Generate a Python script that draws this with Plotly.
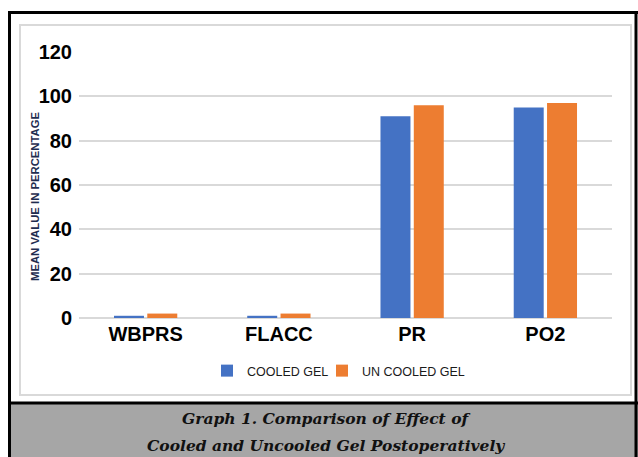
import plotly.graph_objects as go

categories = ["WBPRS", "FLACC", "PR", "PO2"]
cooled_gel = [1.0, 1.0, 91, 95]
uncooled_gel = [2.0, 2.0, 96, 97]
y_ticks = [0, 20, 40, 60, 80, 100, 120]

W, H = 638, 457
L, R, T, B = 79, 612, 52, 318  # plot area in pixels


def px(x):
    return (x - L) / (R - L)


def py(y):
    return (B - y) / (B - T)


fig = go.Figure()
fig.add_trace(go.Bar(name="COOLED GEL", x=categories, y=cooled_gel, legend="legend",
                     marker=dict(color="#4472C4", line=dict(width=0))))
fig.add_trace(go.Bar(name="UN COOLED GEL", x=categories, y=uncooled_gel, legend="legend2",
                     marker=dict(color="#ED7D31", line=dict(width=0))))

shapes = [
    dict(type="rect", xref="paper", yref="paper", x0=px(9), x1=px(640), y0=py(404), y1=py(460),
         fillcolor="#A6A6A6", line=dict(width=0), layer="below"),
    dict(type="rect", xref="paper", yref="paper", x0=px(20), x1=px(631), y0=py(395), y1=py(25),
         fillcolor="rgba(0,0,0,0)", line=dict(color="#D9D9D9", width=2), layer="below"),
    dict(type="line", xref="paper", yref="paper", x0=px(9), x1=px(640), y0=py(403), y1=py(403),
         line=dict(color="black", width=3)),
    dict(type="line", xref="paper", yref="paper", x0=px(9), x1=px(640), y0=py(12.5), y1=py(12.5),
         line=dict(color="black", width=3)),
    dict(type="line", xref="paper", yref="paper", x0=px(9.5), x1=px(9.5), y0=py(11), y1=py(460),
         line=dict(color="black", width=3)),
    dict(type="line", xref="paper", yref="paper", x0=px(636), x1=px(636), y0=py(11), y1=py(460),
         line=dict(color="black", width=3)),
]

annotations = [
    dict(text="<b>MEAN VALUE IN PERCENTAGE</b>", xref="paper", yref="paper",
         x=px(35), y=py(196), textangle=-90, showarrow=False,
         font=dict(family="Liberation Sans", size=11.3, color="#1F2D50"),
         xanchor="center", yanchor="middle"),
    dict(text="<b><i>Graph 1. Comparison of Effect of</i></b>", xref="paper", yref="paper",
         x=px(326), y=py(418), showarrow=False,
         font=dict(family="DejaVu Serif", size=15.5, color="#111111"),
         xanchor="center", yanchor="middle"),
    dict(text="<b><i>Cooled and Uncooled Gel Postoperatively</i></b>", xref="paper", yref="paper",
         x=px(326), y=py(445), showarrow=False,
         font=dict(family="DejaVu Serif", size=15.5, color="#111111"),
         xanchor="center", yanchor="middle"),
]

legend_style = dict(orientation="h", yanchor="middle", y=py(371), xanchor="left",
                    font=dict(family="Liberation Sans", size=12.5, color="#1A1A1A"),
                    itemwidth=30, bgcolor="rgba(0,0,0,0)")

fig.update_layout(
    width=W, height=H,
    margin=dict(l=L, r=W - R, t=T, b=H - B, pad=0),
    paper_bgcolor="white", plot_bgcolor="white",
    barmode="group", bargap=0.5, bargroupgap=0.1,
    showlegend=True,
    legend=dict(x=px(207), **legend_style),
    legend2=dict(x=px(322), **legend_style),
    shapes=shapes,
    annotations=annotations,
    xaxis=dict(showgrid=False, showline=False, zeroline=False, ticks="",
               tickfont=dict(family="Liberation Sans", size=20, color="black", weight="bold"),
               ticklabelstandoff=2),
    yaxis=dict(range=[0, 120], tickvals=y_ticks, showgrid=True, gridcolor="#D9D9D9",
               gridwidth=1.5, zeroline=True, zerolinecolor="#D9D9D9", zerolinewidth=1.5,
               showline=False, ticks="",
               tickfont=dict(family="Liberation Sans", size=20, color="black", weight="bold"),
               ticklabelstandoff=6),
)

fig.write_html("out.html", config={"displayModeBar": False},
               post_script="document.body.style.margin='0';document.body.style.overflow='hidden';")
